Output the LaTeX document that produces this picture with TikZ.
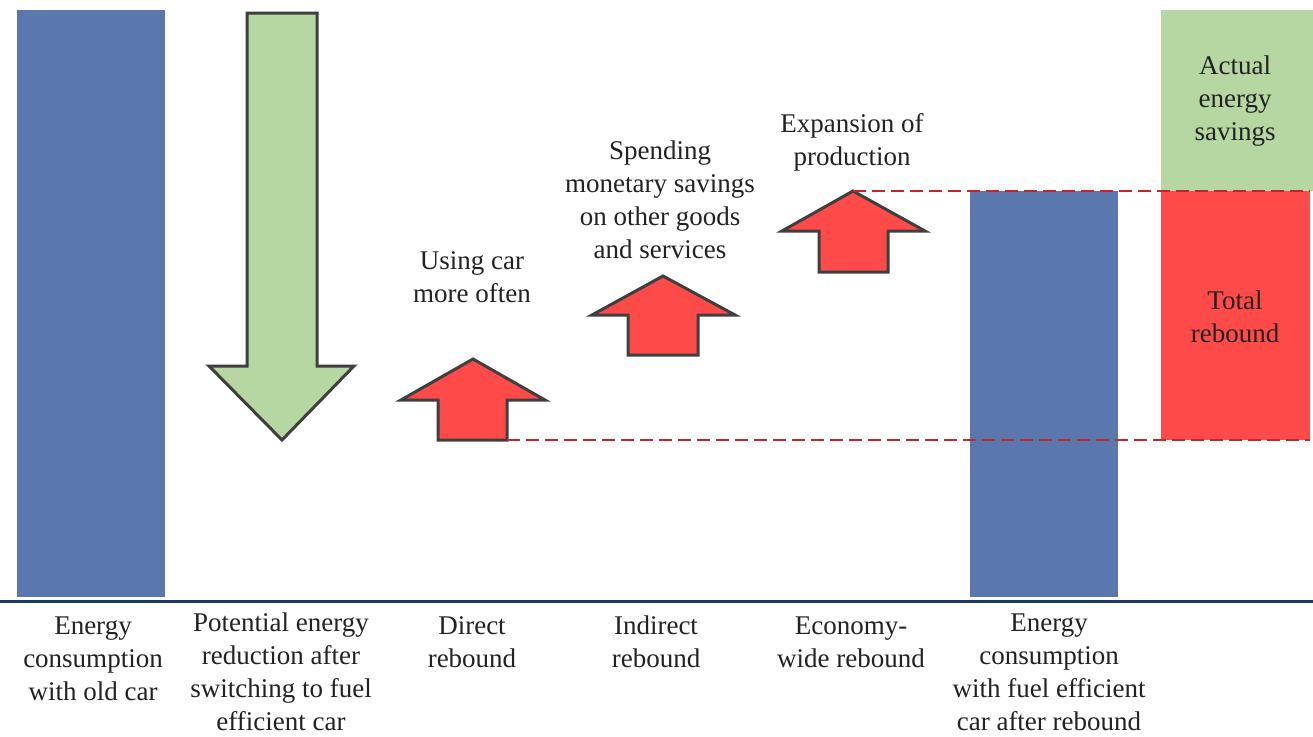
\documentclass[tikz,border=0pt]{standalone}
\usepackage{fontspec}
\setmainfont{Liberation Serif}
\definecolor{barblue}{HTML}{5A77AE}
\definecolor{lgreen}{HTML}{B6D7A2}
\definecolor{rred}{HTML}{FF4A4A}
\definecolor{outl}{HTML}{3F3F3F}
\definecolor{dashred}{HTML}{C0272D}
\definecolor{navy}{HTML}{1F3864}
\definecolor{txt}{HTML}{222222}
\begin{document}
\begin{tikzpicture}[x=1pt,y=-1pt,
  lbl/.style={align=center,text=txt,font=\fontsize{27}{33}\selectfont,inner sep=0pt},
  arrowshape/.style={line width=3pt,draw=outl,line join=miter},
  dashline/.style={draw=dashred,line width=2.8pt,dash pattern=on 13pt off 6pt}]
\useasboundingbox (0,0) rectangle (1313,736);
% bars
\fill[barblue] (17,10) rectangle (165,597);
\fill[barblue] (970,191) rectangle (1118,597);
\fill[lgreen] (1161,10) rectangle (1313,191);
\fill[rred] (1161,191) rectangle (1310,440);
% baseline
\draw[navy,line width=3pt] (0,601) -- (1313,601);
% green down arrow
\draw[arrowshape,fill=lgreen] (247,13) -- (317,13) -- (317,366) -- (354,366) -- (282,440) -- (209,366) -- (247,366) -- cycle;
% red up arrows
\draw[arrowshape,fill=rred] (438,440) -- (438,400) -- (401,400) -- (473,359) -- (545,400) -- (507,400) -- (507,440) coordinate (baseA) -- cycle;
\draw[arrowshape,fill=rred] (628,355) -- (628,315) -- (592,315) -- (663,276) -- (735,315) -- (698,315) -- (698,355) -- cycle;
\draw[arrowshape,fill=rred] (819,272) -- (819,231) -- (782,231) -- (853,191) coordinate (tipC) -- (925,231) -- (888,231) -- (888,272) -- cycle;
% dashed lines
\coordinate (endUp) at (1310,191);
\coordinate (endLow) at (1310,440);
\draw[dashline] (tipC) -- (endUp);
\draw[dashline] (baseA) -- (endLow);
% labels in boxes
\node[lbl] (actual) at (1235,101) {Actual\\energy\\savings};
\node[lbl] (total) at (1235,317) {Total\\rebound};
% labels above arrows
\node[lbl] (using) at (472,277) {Using car\\more often};
\node[lbl] (spend) at (660,200) {Spending\\monetary savings\\on other goods\\and services};
\node[lbl] (expan) at (852,142) {Expansion of\\production};
% bottom labels
\node[lbl] (b1) at (93,659) {Energy\\consumption\\with old car};
\node[lbl] (b2) at (281,672) {Potential energy\\reduction after\\switching to fuel\\efficient car};
\node[lbl] (b3) at (472,642) {Direct\\rebound};
\node[lbl] (b4) at (656,642) {Indirect\\rebound};
\node[lbl] (b5) at (851,642) {Economy-\\wide rebound};
\node[lbl] (b6) at (1049,672) {Energy\\consumption\\with fuel efficient\\car after rebound};
\end{tikzpicture}
\end{document}
